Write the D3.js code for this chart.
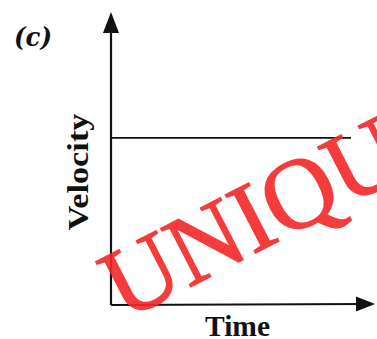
<!DOCTYPE html>
<html>
<head>
<meta charset="utf-8">
<script src="https://cdn.jsdelivr.net/npm/d3@7"></script>
<style>
  html, body { margin: 0; padding: 0; background: #fff; }
  svg { display: block; }
</style>
</head>
<body>
<svg id="chart" width="377" height="339"></svg>
<script>
// ---- data ----
const times = [0, 10];
const velocities = [5.85, 5.85];
const xDomain = [0, 10];
const yDomain = [0, 10];
const panelLabel = "(c)";
const xLabel = "Time";
const yLabel = "Velocity";
const watermark = "UNIQU";

// ---- layout ----
const svg = d3.select("#chart");
const x = d3.scaleLinear().domain(xDomain).range([111, 351]);
const y = d3.scaleLinear().domain(yDomain).range([304, 20]);
const ink = "#111";

// constant-velocity line
const line = d3.line().x(d => x(d[0])).y(d => y(d[1]));
svg.append("path")
  .datum(times.map((t, i) => [t, velocities[i]]))
  .attr("d", line)
  .attr("fill", "none")
  .attr("stroke", ink)
  .attr("stroke-width", 1.6);

// axes (lines with arrowheads)
const x0 = x(0), y0 = y(0);
const xTip = 375, yTip = 12;
svg.append("line")
  .attr("x1", x0).attr("y1", y0 + 1).attr("x2", xTip - 8).attr("y2", y0)
  .attr("stroke", ink).attr("stroke-width", 2.2);
svg.append("line")
  .attr("x1", x0).attr("y1", y0 + 1).attr("x2", x0).attr("y2", yTip + 8)
  .attr("stroke", ink).attr("stroke-width", 2.2);
svg.append("path")
  .attr("d", `M${xTip},${y0} L${xTip - 19},${y0 - 7.5} L${xTip - 19},${y0 + 7.5} Z`)
  .attr("fill", ink);
svg.append("path")
  .attr("d", `M${x0},${yTip} L${x0 - 8},${yTip + 21} L${x0 + 8},${yTip + 21} Z`)
  .attr("fill", ink);

// labels
const serif = "'Liberation Serif', 'DejaVu Serif', serif";
svg.append("text")
  .attr("x", 14).attr("y", 46)
  .attr("font-family", "'DejaVu Serif', serif")
  .attr("font-weight", "bold")
  .attr("font-style", "italic")
  .attr("font-size", 26)
  .attr("textLength", 38)
  .attr("lengthAdjust", "spacingAndGlyphs")
  .attr("fill", ink)
  .text(panelLabel);

svg.append("text")
  .attr("transform", "translate(88,172) rotate(-90)")
  .attr("text-anchor", "middle")
  .attr("font-family", serif)
  .attr("font-weight", "bold")
  .attr("font-size", 30)
  .attr("textLength", 117)
  .attr("lengthAdjust", "spacingAndGlyphs")
  .attr("fill", ink)
  .text(yLabel);

svg.append("text")
  .attr("x", 237.5).attr("y", 336)
  .attr("text-anchor", "middle")
  .attr("font-family", serif)
  .attr("font-weight", "bold")
  .attr("font-size", 30)
  .attr("textLength", 65)
  .attr("lengthAdjust", "spacingAndGlyphs")
  .attr("fill", ink)
  .text(xLabel);

// watermark
svg.append("text")
  .attr("transform", "translate(124,321) rotate(-27.3)")
  .attr("font-family", serif)
  .attr("font-size", 100)
  .attr("fill", "rgb(245,40,40)")
  .attr("stroke", "rgb(245,40,40)")
  .attr("stroke-width", 1.5)
  .attr("opacity", 0.9)
  .text(watermark);
</script>
</body>
</html>
